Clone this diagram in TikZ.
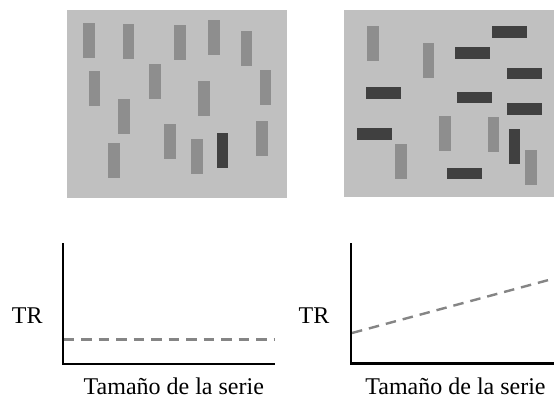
\documentclass[tikz,border=0pt]{standalone}
\usepackage{fontspec}
\setmainfont{Liberation Serif}
\begin{document}
\begin{tikzpicture}[x=1pt,y=-1pt,
  panel/.style={fill=panelgray,draw=none},
  vbar/.style={rectangle,inner sep=0pt,minimum width=11.7pt,minimum height=35pt,fill=lightbar,draw=none},
  vdark/.style={vbar,fill=darkbar},
  hdark/.style={rectangle,inner sep=0pt,minimum width=35pt,minimum height=11.7pt,fill=darkbar,draw=none},
  axis/.style={line width=2.2pt,black,line cap=rect},
  trend/.style={line width=2.4pt,dashcol,dash pattern=on 10.5pt off 7pt},
  lbl/.style={font=\fontsize{24}{28}\selectfont,anchor=base,inner sep=0pt}]
\definecolor{panelgray}{HTML}{C0C0C0}
\definecolor{lightbar}{HTML}{8E8E8E}
\definecolor{darkbar}{HTML}{404040}
\definecolor{dashcol}{HTML}{858585}
\useasboundingbox[fill=white] (0,0) rectangle (554,399);
% panels
\fill[panel] (67,10) rectangle (287,198);
\fill[panel] (344,10) rectangle (554,197);
% left panel bars
\node[vbar] (L1) at (89.3,40) {};
\node[vbar] (L2) at (128.5,41.2) {};
\node[vbar] (L3) at (180.2,42.5) {};
\node[vbar] (L4) at (214.3,37.5) {};
\node[vbar] (L5) at (246.5,48.3) {};
\node[vbar] (L6) at (94.5,88.3) {};
\node[vbar] (L7) at (154.7,81) {};
\node[vbar] (L8) at (204.2,98.5) {};
\node[vbar] (L9) at (265.5,87) {};
\node[vbar] (L10) at (124.3,116.7) {};
\node[vbar] (L11) at (170,141.7) {};
\node[vbar] (L12) at (197.2,156.8) {};
\node[vdark] (L13) at (222.5,150.8) {};
\node[vbar] (L14) at (261.8,138.5) {};
\node[vbar] (L15) at (113.8,160.8) {};
% right panel bars
\node[vbar] (Ra) at (372.8,43.2) {};
\node[vbar] (Rb) at (428.5,60.8) {};
\node[vbar] (Rc) at (444.8,133.8) {};
\node[vbar] (Rd) at (493.5,134.8) {};
\node[vbar] (Re) at (401.3,161.7) {};
\node[vbar] (Rf) at (530.7,167) {};
\node[vdark] (Rg) at (514.5,146.8) {};
\node[hdark] (Rh) at (509.7,31.7) {};
\node[hdark] (Ri) at (472,52.7) {};
\node[hdark] (Rj) at (524.3,73.5) {};
\node[hdark] (Rk) at (383.5,93.3) {};
\node[hdark] (Rl) at (474.8,97.5) {};
\node[hdark] (Rm) at (524.3,109) {};
\node[hdark] (Rn) at (374.7,134) {};
\node[hdark] (Ro) at (464.5,173.5) {};
% left graph
\coordinate (LT) at (62.7,244);
\coordinate (LO) at (62.7,364);
\coordinate (LX) at (274,364);
\coordinate (LD1) at (63.7,339.5);
\coordinate (LD2) at (274,339.5);
\draw[trend] (LD1) -- (LD2);
\draw[axis] (LT) -- (LO) -- (LX);
\node[lbl] (LTR) at (27.2,323.3) {TR};
\node[lbl] (LXL) at (173.8,394.3) {Tamaño de la serie};
% right graph
\coordinate (RT) at (351.3,244);
\coordinate (RO) at (351.3,363.5);
\coordinate (RX) at (556,363.5);
\coordinate (RD1) at (352,333);
\coordinate (RD2) at (556,278);
\draw[trend] (RD1) -- (RD2);
\draw[axis] (RT) -- (RO) -- (RX);
\node[lbl] (RTR) at (314,323.3) {TR};
\node[lbl] (RXL) at (455.5,394.3) {Tamaño de la serie};
\end{tikzpicture}
\end{document}
